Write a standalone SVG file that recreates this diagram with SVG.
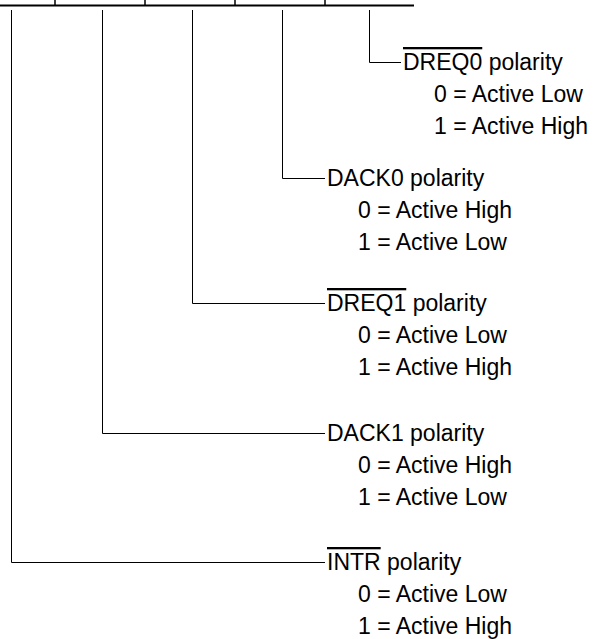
<svg xmlns="http://www.w3.org/2000/svg" width="599" height="639" viewBox="0 0 599 639">
<style>
  .bus { stroke: #000; stroke-width: 2; fill: none; }
  .tick { stroke: #000; stroke-width: 1.5; fill: none; }
  .lead { stroke: #000; stroke-width: 1; fill: none; }
  text { font-family: "Liberation Sans", Arial, sans-serif; font-size: 23px; fill: #000; }
  .ov { text-decoration: overline; }
</style>
<rect width="599" height="639" fill="#fff"/>
<g id="register">
  <line class="bus" x1="0" y1="5.5" x2="414" y2="5.5"/>
  <line class="tick" x1="55" y1="0" x2="55" y2="5.5"/>
  <line class="tick" x1="145" y1="0" x2="145" y2="5.5"/>
  <line class="tick" x1="235" y1="0" x2="235" y2="5.5"/>
  <line class="tick" x1="325" y1="0" x2="325" y2="5.5"/>
</g>
<g id="connectors">
  <polyline class="lead" points="369.5,10 369.5,62.5 401,62.5"/>
  <polyline class="lead" points="282.5,10 282.5,178.5 325,178.5"/>
  <polyline class="lead" points="192.5,10 192.5,303.5 325,303.5"/>
  <polyline class="lead" points="102.5,10 102.5,433.5 325,433.5"/>
  <polyline class="lead" points="11.5,10 11.5,562.5 325,562.5"/>
</g>
<g id="dreq0">
  <text x="403" y="70"><tspan class="ov">DREQ0</tspan> polarity</text>
  <text x="434" y="102">0 = Active Low</text>
  <text x="434" y="134">1 = Active High</text>
</g>
<g id="dack0">
  <text x="327" y="186">DACK0 polarity</text>
  <text x="358" y="218">0 = Active High</text>
  <text x="358" y="250">1 = Active Low</text>
</g>
<g id="dreq1">
  <text x="327" y="311"><tspan class="ov">DREQ1</tspan> polarity</text>
  <text x="358" y="343">0 = Active Low</text>
  <text x="358" y="375">1 = Active High</text>
</g>
<g id="dack1">
  <text x="327" y="441">DACK1 polarity</text>
  <text x="358" y="473">0 = Active High</text>
  <text x="358" y="505">1 = Active Low</text>
</g>
<g id="intr">
  <text x="327" y="570"><tspan class="ov">INTR</tspan> polarity</text>
  <text x="358" y="602">0 = Active Low</text>
  <text x="358" y="634">1 = Active High</text>
</g>
</svg>
